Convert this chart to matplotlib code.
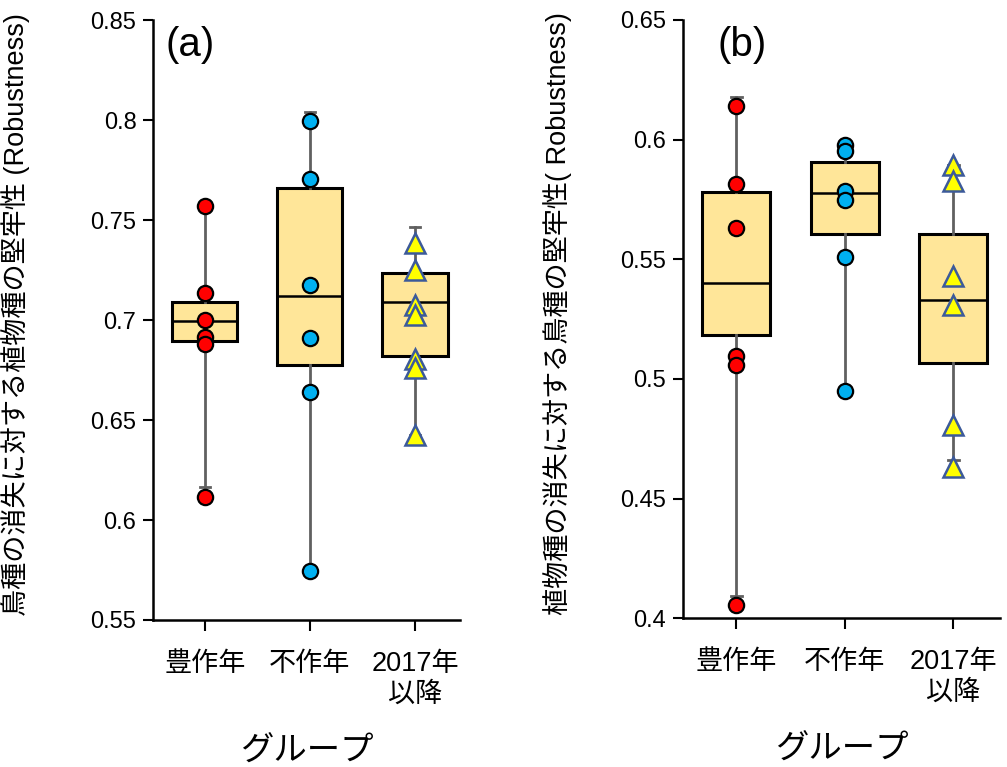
import matplotlib.pyplot as plt

plt.rcParams['font.family'] = ['Liberation Sans', 'Noto Sans CJK JP', 'DejaVu Sans']

groups = ['豊作年', '不作年', '2017年\n以降']
positions = [1, 2, 3]

# panel (a): robustness of plant species to loss of bird species
a_pts = [
    [0.757, 0.7135, 0.700, 0.6916, 0.6879, 0.6116],
    [0.7995, 0.7704, 0.7174, 0.6912, 0.6642, 0.5745],
    [0.7385, 0.7251, 0.7077, 0.7024, 0.6803, 0.6758, 0.6426],
]
a_q1 = [0.6896, 0.6774, 0.6822]
a_med = [0.6995, 0.7121, 0.7092]
a_q3 = [0.7092, 0.7659, 0.7234]
a_lo = [0.6164, 0.5745, 0.6426]
a_hi = [0.757, 0.804, 0.7467]

# panel (b): robustness of bird species to loss of plant species
b_pts = [
    [0.6142, 0.5813, 0.5631, 0.5094, 0.5057, 0.4055],
    [0.5977, 0.5951, 0.5784, 0.5747, 0.5508, 0.4949],
    [0.5892, 0.5827, 0.5431, 0.5307, 0.4809, 0.4631],
]
b_q1 = [0.5184, 0.5605, 0.5067]
b_med = [0.5399, 0.5776, 0.5331]
b_q3 = [0.5781, 0.5905, 0.5607]
b_lo = [0.4094, 0.4949, 0.4663]
b_hi = [0.6176, 0.5977, 0.5892]

a_ticks = [0.55, 0.6, 0.65, 0.7, 0.75, 0.8, 0.85]
b_ticks = [0.4, 0.45, 0.5, 0.55, 0.6, 0.65]

marker_styles = [
    dict(marker='o', markersize=11, markerfacecolor='#ff0000', markeredgecolor='black', markeredgewidth=1.6),
    dict(marker='o', markersize=11, markerfacecolor='#00b0f0', markeredgecolor='black', markeredgewidth=1.6),
    dict(marker='^', markersize=14, markerfacecolor='#ffff00', markeredgecolor='#3c5a9a', markeredgewidth=1.8),
]

fig = plt.figure(figsize=(10.07, 7.67), dpi=100)
ax_a = fig.add_axes([0.152, 0.1917, 0.305, 0.782])
ax_b = fig.add_axes([0.678, 0.194, 0.315, 0.780])


def draw_panel(ax, pts, q1, med, q3, lo, hi, ticks, width, ylabel, tag, tag_x):
    stats = []
    for i in range(3):
        stats.append(dict(q1=q1[i], med=med[i], q3=q3[i], whislo=lo[i], whishi=hi[i], fliers=[]))
    ax.bxp(stats, positions=positions, widths=width, patch_artist=True, showfliers=False,
           capwidths=0.1,
           boxprops=dict(facecolor='#ffe699', edgecolor='black', linewidth=2.2),
           medianprops=dict(color='black', linewidth=1.8),
           whiskerprops=dict(color='#606060', linewidth=2),
           capprops=dict(color='#606060', linewidth=2))
    for i, vals in enumerate(pts):
        ax.plot([positions[i]] * len(vals), vals, linestyle='none', zorder=5, **marker_styles[i])

    ax.set_xlim(0.508, 3.43)
    ax.set_ylim(ticks[0], ticks[-1])
    ax.set_yticks(ticks)
    ax.set_yticklabels(['%g' % t for t in ticks], fontsize=17)
    ax.set_xticks(positions)
    ax.set_xticklabels(groups, fontsize=19.5, linespacing=1.25)
    ax.tick_params(axis='y', direction='out', length=7, width=1.5, pad=5)
    ax.tick_params(axis='x', direction='out', length=8, width=1.5, pad=14)
    for side in ['top', 'right']:
        ax.spines[side].set_visible(False)
    for side in ['left', 'bottom']:
        ax.spines[side].set_linewidth(1.8)
    ax.set_ylabel(ylabel, fontsize=19.5)
    ax.set_xlabel('グループ', fontsize=24, labelpad=20)
    ax.text(tag_x, 0.99, tag, transform=ax.transAxes, fontsize=29, va='top', ha='left')


draw_panel(ax_a, a_pts, a_q1, a_med, a_q3, a_lo, a_hi, a_ticks, 0.62,
           '鳥種の消失に対する植物種の堅牢性 (Robustness)', '(a)', 0.04)
draw_panel(ax_b, b_pts, b_q1, b_med, b_q3, b_lo, b_hi, b_ticks, 0.63,
           '植物種の消失に対する鳥種の堅牢性( Robustness)', '(b)', 0.11)

ax_a.yaxis.set_label_coords(-0.40, 0.51)
ax_b.yaxis.set_label_coords(-0.35, 0.51)

plt.savefig('out.png', dpi=100)
